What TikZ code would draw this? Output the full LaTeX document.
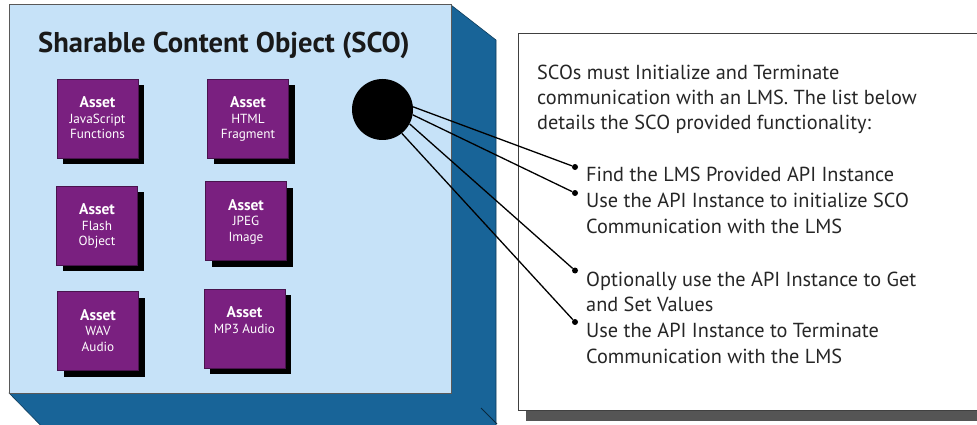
\documentclass[tikz,border=0pt]{standalone}
\usepackage{fontspec}
\setmainfont{PT Sans}
\usetikzlibrary{shadows}
\definecolor{lightface}{RGB}{198,226,248}
\definecolor{darkside}{RGB}{24,100,152}
\definecolor{assetpurple}{RGB}{122,32,128}
\definecolor{shadowgray}{RGB}{85,85,85}
\newcommand{\assethead}{{\fontsize{15.5}{15.5}\selectfont\bfseries Asset}}
\tikzset{
  assetbox/.style={rectangle, fill=assetpurple, draw=assetpurple!60!black, line width=0.6pt,
    minimum width=81pt, minimum height=79pt, inner sep=0pt,
    drop shadow={shadow xshift=6pt, shadow yshift=-6pt, fill=black, opacity=1}},
  assettext/.style={anchor=north, text=white, align=center, inner sep=0pt,
    font=\fontsize{13.2}{15.5}\selectfont},
  dot/.style={circle, fill=black, inner sep=0pt, minimum size=6pt},
  conn/.style={draw=black, line width=1.3pt},
  bodytext/.style={anchor=base west, inner sep=0pt, font=\fontsize{20.3}{25}\selectfont, text=black!85},
}
\begin{document}
\begin{tikzpicture}[x=1pt,y=-1pt]
\useasboundingbox (0,0) rectangle (977,425);
\clip (0,0) rectangle (977,425);
% 3D block
\path[fill=darkside, draw=darkside!60!black, line width=0.6pt]
  (451,5) -- (496,40) -- (496,440) -- (55,440) -- (9,393) -- cycle;
\draw[draw=darkside!40!black, line width=1pt] (481,408) -- (497,424);
\node[rectangle, fill=lightface, draw=black!65, line width=1pt, minimum width=442pt,
  minimum height=388pt, inner sep=0pt] (face) at (230,199) {};
\node[anchor=base west, inner sep=0pt, font=\fontsize{28.6}{30}\selectfont\bfseries, text=black!90] (title)
  at (38,53) {Sharable Content Object (SCO)};
% assets
\node[assetbox] (a1) at (97.5,118.5) {};
\node[assetbox] (a2) at (248,118.5) {};
\node[assetbox] (a3) at (97,225.5) {};
\node[assetbox] (a4) at (246,221) {};
\node[assetbox] (a5) at (98,331) {};
\node[assetbox] (a6) at (244.5,328.5) {};
\node[assettext] (a1t) at ([yshift=-18pt]a1.north) {\assethead\\JavaScript\\Functions};
\node[assettext] (a2t) at ([yshift=-18pt]a2.north) {\assethead\\HTML\\Fragment};
\node[assettext] (a3t) at ([yshift=-18pt]a3.north) {\assethead\\Flash\\Object};
\node[assettext] (a4t) at ([yshift=-18pt]a4.north) {\assethead\\JPEG\\Image};
\node[assettext] (a5t) at ([yshift=-18pt]a5.north) {\assethead\\WAV\\Audio};
\node[assettext] (a6t) at ([yshift=-18pt]a6.north) {\assethead\\MP3 Audio};
% SCO circle
\node[circle, fill=black, inner sep=0pt, minimum size=61pt] (sco) at (382.5,109.5) {};
% text box
\fill[shadowgray] (526,402) rectangle (990,421);
\node[rectangle, fill=white, draw=black!75, line width=1.2pt, minimum width=480pt,
  minimum height=377pt, inner sep=0pt, anchor=north west] (box) at (518,33) {};
\node[bodytext] (p1) at (537,79.3) {SCOs must Initialize and Terminate};
\node[bodytext] (p2) at (537,104.3) {communication with an LMS. The list below};
\node[bodytext] (p3) at (537,129.3) {details the SCO provided functionality:};
\node[bodytext] (b1) at (586,181.7) {Find the LMS Provided API Instance};
\node[bodytext] (b2) at (586,207.7) {Use the API Instance to initialize SCO};
\node[bodytext] (b2b) at (586,233.3) {Communication with the LMS};
\node[bodytext] (b3) at (586,286) {Optionally use the API Instance to Get};
\node[bodytext] (b3b) at (586,311.7) {and Set Values};
\node[bodytext] (b4) at (586,337.7) {Use the API Instance to Terminate};
\node[bodytext] (b4b) at (586,363.3) {Communication with the LMS};
% bullets and connectors
\node[dot] (d1) at (575,167) {};
\node[dot] (d2) at (575,193) {};
\node[dot] (d3) at (575,270.5) {};
\node[dot] (d4) at (575,322) {};
\draw[conn] (sco.5) -- (d1);
\draw[conn] (sco.-10) -- (d2);
\draw[conn] (sco.-28) -- (d3);
\draw[conn] (sco.-51) -- (d4);
\end{tikzpicture}
\end{document}
